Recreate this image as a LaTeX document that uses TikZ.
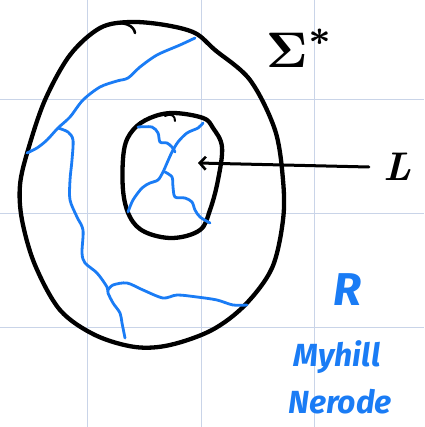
\documentclass[tikz,border=0pt]{standalone}
\usepackage{bm}
\usepackage{fontspec}
\setsansfont{Fira Sans}
\usetikzlibrary{arrows.meta}
\definecolor{gridblue}{HTML}{C9D4E8}
\definecolor{inkblue}{HTML}{1A7CF5}

\begin{document}
\begin{tikzpicture}[x=1pt, y=-1pt,
  ink/.style={draw=black, line width=4.3pt, line cap=round, line join=round},
  thinink/.style={draw=black, line width=3pt, line cap=round, line join=round},
  blueink/.style={draw=inkblue, line width=2.8pt, line cap=round, line join=round},
  gridline/.style={draw=gridblue, line width=1pt},
  bluetext/.style={text=inkblue, inner sep=0pt}]
\useasboundingbox[fill=white] (0,0) rectangle (424,427);
% paper grid
\foreach \gx in {87,201,314} \draw[gridline] (\gx,0) -- (\gx,427);
\foreach \gy in {100,213,327} \draw[gridline] (0,\gy) -- (424,\gy);
% Sigma^* loop
\draw[ink] plot[smooth cycle, tension=0.55] coordinates {(130,22) (165,25) (195,33) (215,50) (250,80) (275,130) (283,180) (283,220)
  (272,268) (245,305) (212,330) (170,345) (135,347) (95,335) (60,310) (35,265) (22,220) (20,185) (28,150) (45,100) (70,55) (100,28)};
\draw[ink, line width=2.6pt] (107,25) .. controls (125,20) and (134,26) .. (135,33);
% L loop
\draw[ink] plot[smooth cycle, tension=0.6] coordinates {(173,113) (203,118) (213,128) (222,147) (218,180) (210,210)
  (200,230) (173,238) (145,232) (130,217) (123,190) (124,150) (133,130) (150,118)};
\draw[ink, line width=2pt] (165,116) .. controls (172,113) and (175,116) .. (175,121);
% classes in Sigma^*
\draw[blueink] plot[smooth, tension=0.5] coordinates {(195,38) (180,45) (157,55) (140,67) (128,78) (117,81) (100,87)
  (83,100) (70,117) (58,128) (47,140) (37,148) (27,153)};
\draw[blueink] plot[smooth, tension=0.5] coordinates {(58,128) (68,132) (73,140) (72,160) (70,180) (70,200) (77,217)
  (83,230) (82,253) (85,263) (97,273) (107,287) (108,293) (113,303) (120,313) (122,323) (125,338)};
\draw[blueink] plot[smooth, tension=0.5] coordinates {(108,290) (113,285) (127,283) (143,290) (163,298) (177,295)
  (197,297) (217,300) (233,305) (247,305)};
% classes in L
\draw[blueink] plot[smooth, tension=0.5] coordinates {(138,127) (152,127) (158,133) (160,142) (167,143) (172,147) (175,152)};
\draw[blueink] plot[smooth, tension=0.5] coordinates {(203,123) (198,128) (187,133) (178,142) (172,152) (167,163)
  (163,172) (158,180) (150,183) (142,188) (133,200) (128,212)};
\draw[blueink] plot[smooth, tension=0.5] coordinates {(165,172) (172,177) (173,187) (175,197) (185,198) (192,202)
  (195,210) (200,217) (210,223)};
% labels
\node[inner sep=0pt, scale=5] (sigma) at (300,48) {$\bm{\Sigma}^{\bm{*}}$};
\node[inner sep=0pt, font=\fontsize{40}{44}\selectfont\bfseries\itshape] (lang) at (397,167) {L};
\coordinate (tip) at (198,163);
\draw[thinink, -{Straight Barb[length=6pt, width=13pt, line width=2.6pt]}] ([xshift=-14pt]lang.west) -- (tip);
\node[bluetext, font=\fontsize{46}{50}\selectfont\sffamily\itshape\bfseries] (rel) at (347,290) {R};
\node[bluetext, font=\fontsize{32}{36}\selectfont\sffamily\itshape\bfseries] (myhill) at (337,357) {Myhill};
\node[bluetext, font=\fontsize{32}{36}\selectfont\sffamily\itshape\bfseries] (nerode) at (340,402) {Nerode};
\end{tikzpicture}
\end{document}
